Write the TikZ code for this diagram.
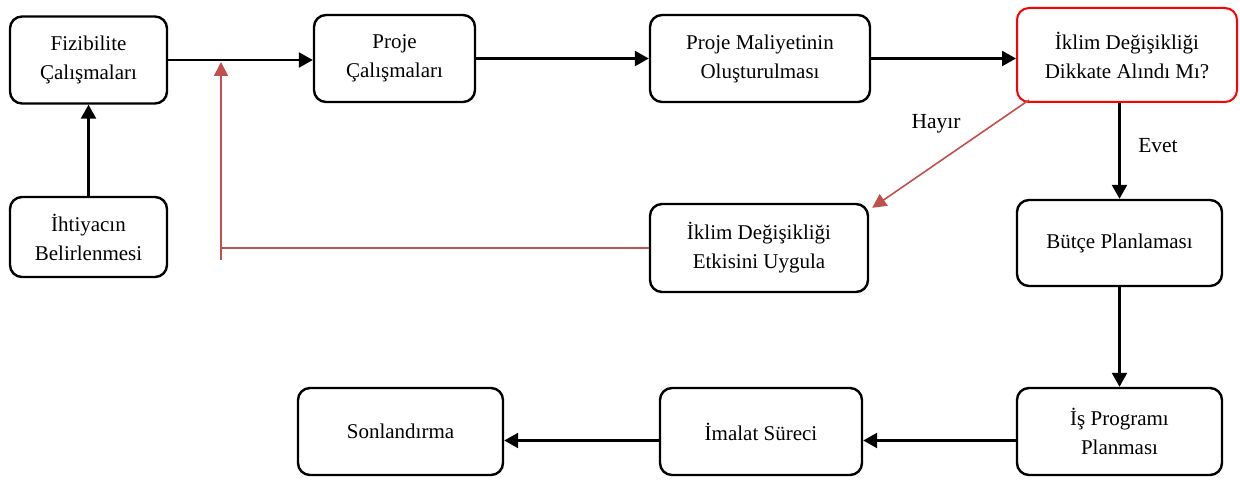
\documentclass[tikz,border=0pt]{standalone}
\usepackage{fontspec}
\setmainfont{Liberation Serif}
\usetikzlibrary{arrows.meta}
\definecolor{hayirred}{HTML}{C0504D}
\tikzset{
  kutu/.style={draw, line width=2.4pt, rounded corners=12pt, align=center,
    minimum width=205pt, minimum height=87pt, font=\fontsize{21}{29}\selectfont},
  ok/.style={line width=2.4pt, -{Triangle[length=14pt,width=15pt]}},
  kirmiziok/.style={hayirred, line width=1.6pt, -{Triangle[length=14pt,width=14pt]}},
  etiket/.style={font=\fontsize{21.5}{25}\selectfont},
}
\begin{document}
\begin{tikzpicture}[x=1pt,y=-1pt]
    \useasboundingbox (0,0) rectangle (1240,484);
    % ust sira
    \node[kutu, minimum width=157pt] (fiz) at (88.5,60) {Fizibilite\\Çalışmaları};
    \node[kutu, minimum width=157pt, minimum height=80pt] (iht) at (88.5,237) {İhtiyacın\\Belirlenmesi};
    \node[kutu, minimum width=161pt] (proje) at (394.5,58.5) {Proje\\Çalışmaları};
    \node[kutu, minimum width=220pt] (maliyet) at (760,58.5) {Proje Maliyetinin\\Oluşturulması};
    \node[kutu, draw=red, line width=2pt, minimum width=220pt, minimum height=94pt] (iklim) at (1127,55) {İklim Değişikliği\\Dikkate Alındı Mı?};
    % orta sira
    \node[kutu, minimum width=218pt, minimum height=88pt] (etki) at (759,248) {İklim Değişikliği\\Etkisini Uygula};
    \node[kutu, minimum height=86pt] (butce) at (1119.5,243) {Bütçe Planlaması};
    % alt sira
    \node[kutu] (isprog) at (1119.5,431.5) {İş Programı\\Planması};
    \node[kutu, minimum width=202pt] (imalat) at (761,431.5) {İmalat Süreci};
    \node[kutu] (sonl) at (400.5,431.5) {Sonlandırma};
    \node[etiket] (hayir) at (936,124) {Hayır};
    \node[etiket] (evet) at (1158,146) {Evet};

    \draw[ok] (fiz.east) -- (fiz.east -| proje.west);
    \draw[ok] (iht) -- (fiz);
    \draw[ok] (proje) -- (maliyet);
    \draw[ok] (maliyet.east) -- (iklim.west |- maliyet.east);
    \draw[ok] (butce.north |- iklim.south) -- (butce.north);
    \draw[ok] (butce) -- (isprog);
    \draw[ok] ([yshift=-9pt]isprog.west) -- ([yshift=-9pt]imalat.east);
    \draw[ok] ([yshift=-9pt]imalat.west) -- ([yshift=-9pt]sonl.east);

    % hayir dongusu
    \coordinate (donus) at (221,248);
    \coordinate (donusalt) at (221,260);
    \coordinate (donusust) at (221,62);
    \draw[kirmiziok] ([xshift=13pt,yshift=3pt]iklim.south west) -- ([xshift=3pt,yshift=-5pt]etki.north east);
    \draw[hayirred, line width=1.6pt] (etki.west) -- (donus);
    \draw[kirmiziok] (donusalt) -- (donusust);
\end{tikzpicture}
\end{document}
